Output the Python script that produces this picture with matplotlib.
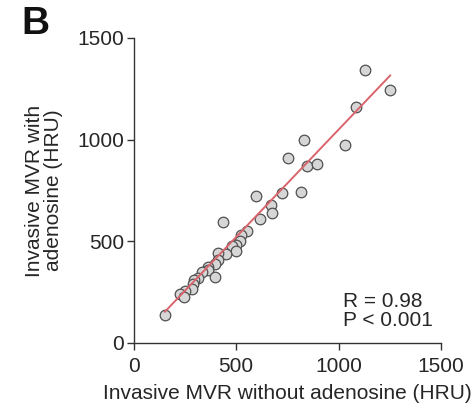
import matplotlib
matplotlib.use('Agg')
import matplotlib.pyplot as plt
import numpy as np

plt.rcParams['font.family'] = ['Liberation Sans', 'DejaVu Sans']

# invasive MVR without / with adenosine (HRU)
mvr_without = [1126, 1251, 1086, 831, 1032, 755, 846, 894, 726, 818,
               599, 671, 676, 616, 434, 554, 526, 517, 499, 478,
               499, 453, 414, 414, 397, 364, 364, 397, 332, 315,
               294, 288, 283, 251, 226, 247, 153]
mvr_with = [1345, 1246, 1159, 997, 972, 908, 869, 882, 737, 742,
            721, 680, 637, 609, 593, 550, 529, 504, 483, 478,
            453, 437, 445, 409, 388, 376, 360, 327, 348, 319,
            310, 291, 264, 256, 240, 228, 138]

fit_slope = 1.058
fit_intercept = -8
stats_text = 'R = 0.98\nP < 0.001'
ticks = [0, 500, 1000, 1500]

fs = 15
txt = '#262626'

fig = plt.figure(figsize=(4.77, 4.13), dpi=100)
ax = fig.add_axes([0.280, 0.1695, 0.645, 0.7385])

x = np.array(mvr_without)
y = np.array(mvr_with)
xl = np.array([x.min(), x.max()])
ax.plot(xl, fit_slope * xl + fit_intercept, color='#d9646c', lw=1.4, zorder=3)
ax.scatter(x, y, s=58, facecolor='#d6d6d6', edgecolor='#505050',
           linewidth=0.9, zorder=2)

ax.set_xlim(0, 1500)
ax.set_ylim(0, 1500)
ax.set_xticks(ticks)
ax.set_yticks(ticks)
ax.spines['top'].set_visible(False)
ax.spines['right'].set_visible(False)
for s in ['left', 'bottom']:
    ax.spines[s].set_color('#333333')
    ax.spines[s].set_linewidth(1.0)
ax.tick_params(direction='out', length=5, width=1.0, colors='#333333',
               labelsize=fs, labelcolor=txt)
ax.tick_params(axis='x', pad=5)
ax.tick_params(axis='y', pad=2)
ax.set_xlabel('Invasive MVR without adenosine (HRU)', fontsize=fs,
              color=txt, labelpad=6)
ax.set_ylabel('Invasive MVR with\nadenosine (HRU)', fontsize=fs,
              color=txt, labelpad=10, linespacing=1.0)

ax.text(1020, 62, stats_text, fontsize=fs, color=txt,
        ha='left', va='bottom', linespacing=1.0)

fig.text(0.045, 0.985, 'B', fontsize=28, fontweight='bold', ha='left',
         va='top', color='#111111')

fig.savefig('out.png', dpi=100, facecolor='white')
